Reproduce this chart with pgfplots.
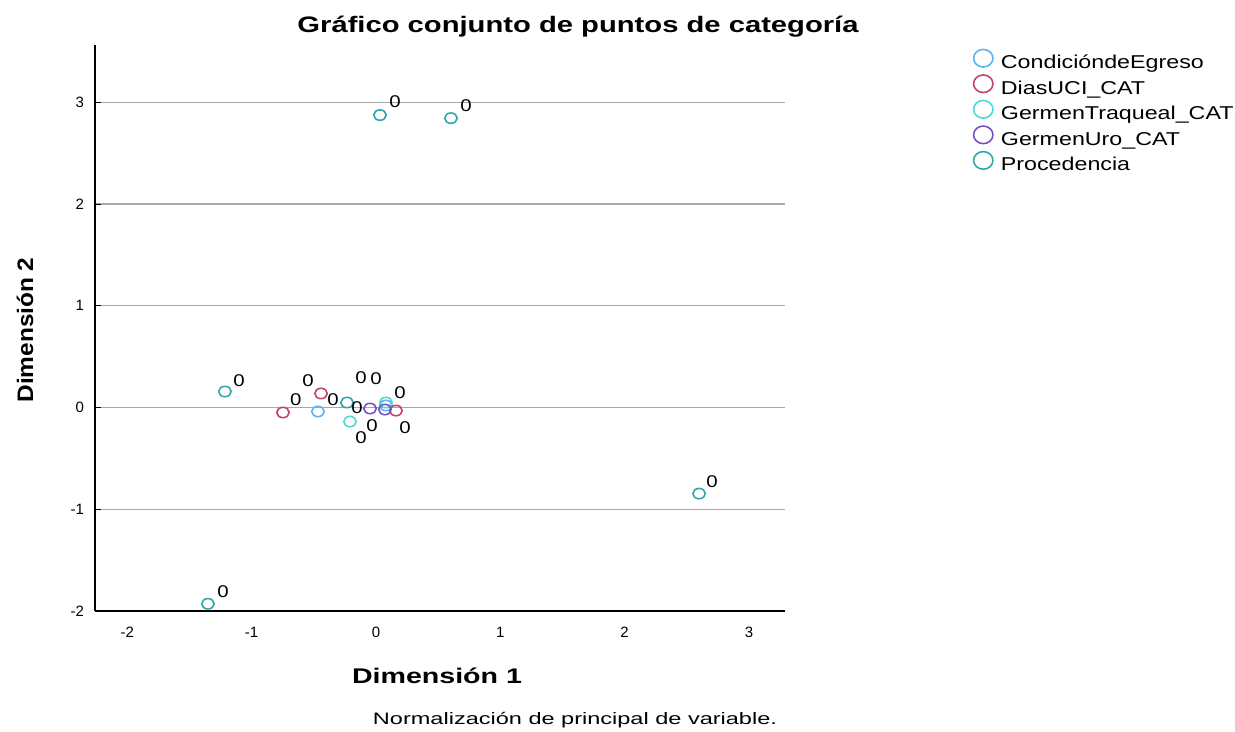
\documentclass[border=0pt]{standalone}
\usepackage{graphicx}
\usepackage{pgfplots}
\pgfplotsset{compat=1.18}
\usepackage{fontspec}
\setmainfont{Liberation Sans}

\definecolor{cCond}{HTML}{5EB2F2}
\definecolor{cDias}{HTML}{C2456F}
\definecolor{cTraq}{HTML}{4ED8DA}
\definecolor{cUro}{HTML}{7B4FC2}
\definecolor{cProc}{HTML}{30A8AA}
\definecolor{gridgray}{HTML}{A8A8A8}

% wide legend text
\newcommand\lgt[1]{\scalebox{1.25}[1]{#1}}

\begin{document}
\begin{tikzpicture}[x=1pt,y=1pt]
\useasboundingbox (0,0) rectangle (617.5,366);
\begin{axis}[
  at={(47.5pt,60.5pt)}, anchor=south west,
  scale only axis, width=345pt, height=283pt,
  xmin=-2.26, xmax=3.29, ymin=-2, ymax=3.563,
  axis x line*=bottom, axis y line*=left,
  axis line style={-, line width=0.7pt, black},
  xtick={-2,-1,0,1,2,3}, ytick={-2,-1,0,1,2,3},
  xtick style={draw=none},
  ytick style={black, line width=0.5pt},
  major tick length=3pt, tick align=inside,
  ymajorgrids, grid style={gridgray, line width=0.6pt},
  tick label style={font=\fontsize{7.5}{9}\selectfont},
  /pgf/number format/assume math mode=true,
  xticklabel style={yshift=-4.5pt},
  yticklabel style={xshift=-2pt},
  every axis plot/.append style={only marks, mark=o, line width=0.8pt,
    mark size=2.6pt, mark options={xscale=1.2}},
  legend style={at={(1.264,1.0)}, anchor=north west, draw=none, fill=none,
    font=\fontsize{9.3}{11}\selectfont, row sep=0pt,
    nodes={inner sep=0pt, text height=7pt, text depth=3.15pt},
    /tikz/every odd column/.append style={column sep=4pt}},
  legend cell align=left,
  legend image code/.code={\draw[#1, mark size=4.4pt, mark options={xscale=1.1, line width=0.8pt}] plot coordinates {(0cm,3.3pt)};},
]
% Condición de egreso
\addplot[cCond] table {
x y
-0.467 -0.039
0.080 0.020
};
\addlegendentry{\lgt{CondicióndeEgreso}}
% Días en UCI
\addplot[cDias] table {
x y
-0.748 -0.049
-0.442 0.138
0.161 -0.030
};
\addlegendentry{\lgt{DiasUCI\_CAT}}
% Germen traqueal
\addplot[cTraq] table {
x y
-0.209 -0.138
0.080 0.049
};
\addlegendentry{\lgt{GermenTraqueal\_CAT}}
% Germen urocultivo
\addplot[cUro] table {
x y
-0.048 -0.010
0.072 -0.020
};
\addlegendentry{\lgt{GermenUro\_CAT}}
% Procedencia
\addplot[cProc] table {
x y
0.032 2.874
0.603 2.844
2.599 -0.846
-1.352 -1.929
-1.215 0.157
-0.233 0.049
};
\addlegendentry{\lgt{Procedencia}}
% category labels
\addplot[forget plot, only marks, mark=none,
  nodes near coords={\scalebox{1.2}[1]{0}},
  nodes near coords style={anchor=center, inner sep=0pt, font=\fontsize{8.5}{10}\selectfont}]
table {
x y
0.153 3.002
0.724 2.963
2.703 -0.728
-1.231 -1.811
-1.102 0.266
-0.547 0.266
-0.644 0.079
-0.346 0.079
-0.121 0.295
0.000 0.285
0.193 0.148
-0.153 0.000
-0.032 -0.177
-0.121 -0.295
0.233 -0.197
};
\end{axis}
\node[inner sep=0pt] at (289,352.5) {\resizebox{280.5pt}{\height}{\fontsize{11.2}{13}\selectfont\bfseries Gráfico conjunto de puntos de categoría}};
\node[inner sep=0pt, rotate=90] at (12.5,201) {\resizebox{72.5pt}{\height}{\fontsize{11.2}{13}\selectfont\bfseries Dimensión 2}};
\node[inner sep=0pt] at (218.5,28) {\resizebox{85pt}{\height}{\fontsize{10.6}{13}\selectfont\bfseries Dimensión 1}};
\node[inner sep=0pt] at (287.5,6) {\resizebox{202pt}{\height}{\fontsize{8.3}{10}\selectfont Normalización de principal de variable.}};
\end{tikzpicture}
\end{document}
